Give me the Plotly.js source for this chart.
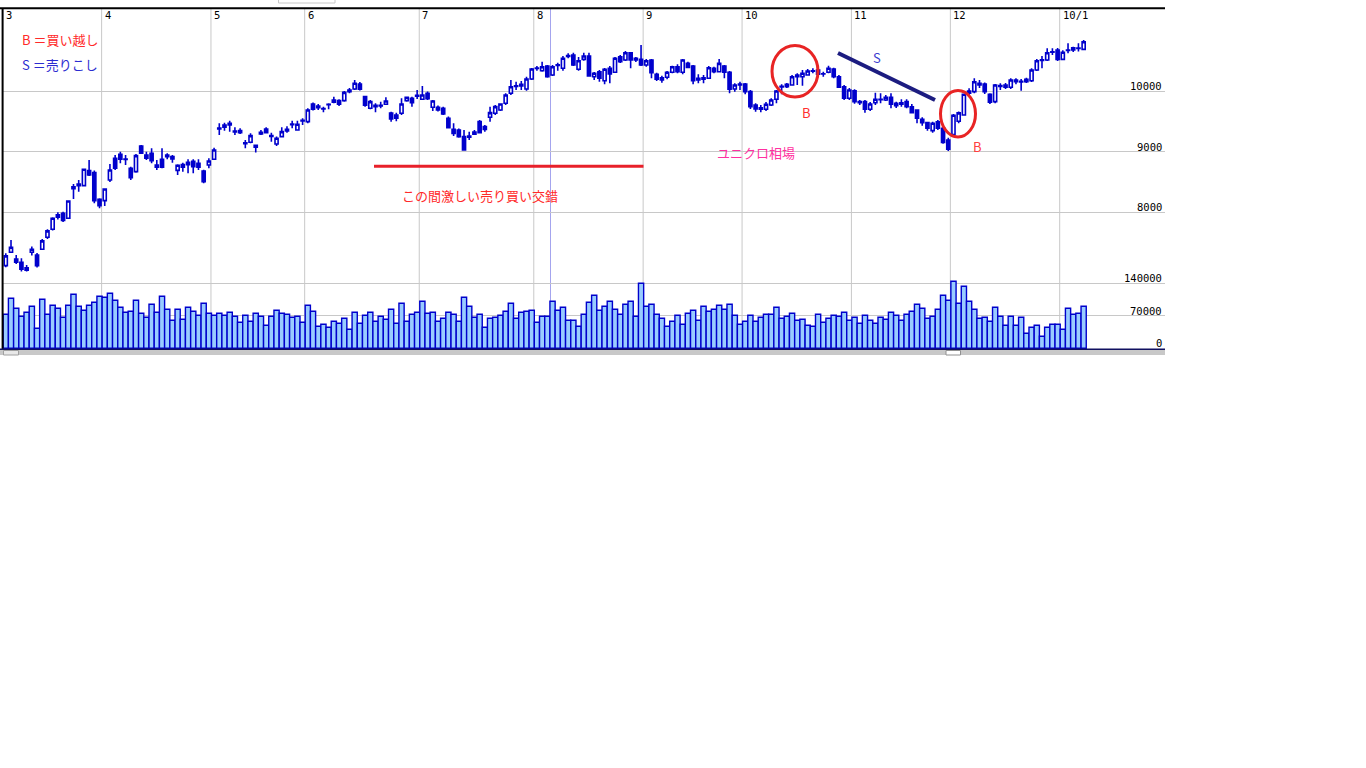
<!DOCTYPE html>
<html><head><meta charset="utf-8">
<script src="https://cdn.plot.ly/plotly-3.0.1.min.js"></script>
<style>html,body{margin:0;padding:0;background:#fff;overflow:hidden}#chart{width:1366px;height:768px}</style>
</head><body><div id="chart"></div>
<script>
// ---- data (daily candles, Mar 2009 - Jan 2010) ----
const monthLabels = ['3','4','5','6','7','8','9','10','11','12','10/1'];
const monthStart  = [0,19,40,58,80,102,123,142,163,182,203];

const openP = [
7121,7342,7231,7177,7083,7342,7297,7391,7589,7721,
7957,7985,7902,8390,8467,8440,8687,8654,8215,8192,
8533,8891,8956,8870,8726,8670,9094,8945,8973,8780,
8874,8918,8880,8692,8786,8786,8841,8808,8682,8780,
8874,9375,9402,9467,9340,9313,9130,9154,9105,9320,
9374,9250,9127,9248,9368,9445,9357,9505,9495,9786,
9753,9710,9775,9814,9841,9841,10016,10033,10115,9907,
9715,9764,9755,9781,9637,9604,9632,9841,9880,9915,
9863,9962,9731,9731,9715,9550,9368,9357,9248,9240,
9286,9495,9412,9567,9632,9687,9797,9962,10077,10082,
10033,10198,10370,10335,10412,10264,10420,10374,10570,10593,
10358,10522,10577,10236,10318,10170,10374,10308,10565,10511,
10631,10539,10522,10428,10511,10275,10219,10226,10308,10400,
10308,10456,10412,10181,10219,10209,10374,10318,10412,10308,
10033,10099,10115,9989,9769,9725,9698,9769,9863,10066,
10110,10099,10236,10236,10264,10325,10346,10285,10308,10363,
10236,10071,9880,10005,9824,9824,9698,9807,9855,9852,
9896,9797,9781,9824,9741,9687,9534,9478,9346,9494,
9385,9190,9280,9500,9604,9962,9989,10127,10115,9946,
9824,10077,10061,10061,10181,10150,10153,10170,10346,10505,
10511,10640,10676,10522,10670,10676,10708,10687];

const highP = [
7325,7544,7297,7243,7132,7434,7330,7560,7720,7920,
8000,8010,8200,8467,8533,8720,8863,8690,8232,8396,
8797,8945,9000,8945,8753,8960,9110,9000,9056,8863,
9056,8973,8945,8792,8819,8874,8874,8874,8700,8891,
9066,9468,9478,9511,9402,9385,9192,9303,9110,9357,
9402,9313,9248,9402,9418,9511,9511,9550,9715,9810,
9786,9742,9797,9907,9863,10000,10049,10181,10150,9923,
9852,9797,9824,9896,9659,9640,9880,9907,9907,10016,
10082,9990,9852,9760,9742,9580,9468,9380,9357,9330,
9357,9520,9440,9742,9769,9800,9962,10181,10153,10165,
10236,10380,10412,10483,10428,10428,10467,10577,10621,10631,
10560,10631,10631,10313,10346,10379,10412,10560,10593,10659,
10643,10560,10758,10527,10527,10302,10252,10330,10417,10440,
10527,10483,10428,10275,10264,10412,10400,10527,10428,10330,
10127,10153,10132,10016,9797,9769,9819,9880,10016,10110,
10132,10264,10292,10346,10363,10374,10374,10318,10417,10384,
10264,10099,10049,10030,9852,9852,9819,9972,9962,9934,
9962,9824,9863,9863,9786,9698,9567,9494,9494,9522,
9440,9230,9620,9660,9960,10044,10209,10181,10140,9962,
10115,10127,10132,10209,10209,10198,10219,10374,10527,10577,
10704,10704,10709,10670,10786,10731,10786,10840];

const lowP = [
7094,7330,7149,7022,7022,7286,7088,7380,7560,7700,
7880,7840,7890,8220,8340,8430,8600,8150,8067,8105,
8500,8698,8808,8780,8533,8650,8967,8863,8808,8698,
8726,8874,8819,8616,8670,8643,8643,8698,8479,8726,
8863,9275,9346,9330,9275,9291,9056,9138,8984,9275,
9302,9165,9094,9240,9313,9385,9346,9440,9468,9680,
9687,9649,9698,9797,9753,9824,9962,10016,10010,9742,
9698,9649,9715,9769,9494,9500,9604,9824,9742,9868,
9852,9852,9670,9660,9604,9380,9259,9230,9016,9192,
9275,9300,9330,9494,9604,9670,9769,9934,10016,10016,
10005,10180,10335,10318,10219,10247,10335,10335,10539,10412,
10335,10500,10236,10181,10153,10110,10127,10297,10461,10494,
10374,10478,10412,10400,10209,10165,10137,10193,10292,10292,
10275,10374,10110,10127,10127,10198,10292,10318,10209,9962,
9989,10016,9946,9703,9659,9649,9670,9753,9797,9946,
10049,10088,10099,10088,10252,10292,10252,10236,10292,10209,
10049,9852,9852,9790,9769,9642,9670,9769,9797,9835,
9715,9720,9740,9715,9632,9468,9428,9346,9313,9357,
9130,9011,9240,9470,9590,9934,9962,10049,9950,9786,
9800,10016,10033,10033,10110,10005,10132,10148,10330,10374,
10494,10593,10494,10511,10621,10643,10651,10676];

const closeP = [
7281,7424,7177,7062,7045,7391,7120,7528,7693,7902,
7919,7864,8187,8420,8440,8710,8616,8192,8110,8385,
8698,8726,8874,8880,8571,8934,8973,8891,8852,8742,
8742,8945,8918,8775,8742,8825,8753,8742,8505,8846,
9028,9390,9440,9440,9325,9346,9145,9264,9072,9291,
9313,9265,9220,9330,9341,9455,9451,9515,9687,9698,
9725,9703,9781,9852,9781,9978,9989,10127,10028,9764,
9825,9742,9764,9836,9539,9550,9786,9896,9808,9928,
9934,9874,9836,9687,9621,9396,9302,9248,9028,9259,
9324,9313,9368,9643,9742,9786,9934,10071,10087,10110,
10198,10363,10378,10401,10236,10401,10430,10539,10585,10428,
10499,10577,10247,10292,10209,10358,10280,10539,10483,10631,
10511,10511,10428,10499,10302,10193,10181,10308,10400,10318,
10511,10390,10170,10209,10193,10384,10318,10456,10308,10028,
10099,10115,9989,9741,9703,9698,9781,9852,10000,10077,
10071,10236,10264,10292,10330,10335,10275,10280,10374,10236,
10061,9880,10016,9824,9807,9698,9786,9863,9865,9896,
9781,9758,9807,9741,9642,9550,9478,9385,9468,9385,
9150,9040,9600,9640,9946,10000,10153,10099,9989,9814,
10099,10088,10099,10181,10153,10160,10193,10346,10499,10515,
10631,10648,10522,10638,10676,10714,10700,10812];

const volume = [
73200,107700,86200,68900,77500,90500,43100,105500,73200,92600,
86200,66800,92600,116300,90500,81900,92600,99100,112000,109900,
118500,103400,88300,77500,79700,103400,75400,66800,94800,77500,
112000,84000,60300,84000,62500,88300,79700,71100,96900,75400,
71100,75400,71100,77500,68900,56000,71100,58200,75400,68900,
49500,68900,81900,75400,73200,66800,68900,
56000,92600,79700,47400,51700,45200,58200,53800,64600,40900,
77500,53800,71100,77500,58200,68900,62500,84000,53800,96900,
58200,73200,77500,101200,75400,77500,58200,64600,77500,73200,
58200,109900,90500,66800,73200,45200,64600,66800,71100,79700,
96900,64600,77500,79700,81900,56000,68900,68900,101200,81900,
88300,60300,60300,47400,
73200,99100,114200,81900,90500,101200,84000,73200,94800,101200,
68900,140000,90500,94800,73200,64600,47400,58200,71100,51700,
75400,81900,60300,90500,79700,84000,92600,84000,94800,71100,
51700,58200,71100,58200,66800,73200,73200,88300,64600,68900,
75400,60300,62500,49500,47400,73200,56000,64600,71100,68900,
77500,60300,66800,53800,
71100,60300,53800,66800,62500,77500,71100,60300,73200,79700,
94800,86200,64600,68900,84000,114200,103400,144300,96900,133500,
101200,84000,64600,66800,58200,88300,68900,49500,68900,49500,
66800,32300,45200,49500,25800,45200,51700,51700,40900,86200,
73200,75400,90500];

const priceTicks = [10000, 9000, 8000];
const volTicks = [140000, 70000, 0];

// ---- layout geometry (pixels of the frame) ----
const PL = 3, PT = 8, PR = 1165, PB = 349;
const px = x => (x - PL) / (PR - PL);
const py = y => (PB - y) / (PB - PT);
const X0 = (PL - 5.8) / 5.207, X1 = (PR - 5.8) / 5.207;

const idx = openP.map((_, i) => i);
const BLUE = '#0000cc';

const candles = {
  type: 'candlestick', x: idx, open: openP, high: highP, low: lowP, close: closeP,
  xaxis: 'x', yaxis: 'y', hoverinfo: 'skip', whiskerwidth: 0,
  increasing: {line: {color: BLUE, width: 1.6}, fillcolor: '#ffffff'},
  decreasing: {line: {color: BLUE, width: 1.6}, fillcolor: BLUE}
};
const vols = {
  type: 'bar', x: idx, y: volume, xaxis: 'x', yaxis: 'y2', hoverinfo: 'skip',
  marker: {color: '#99ccff', line: {color: BLUE, width: 1.4}}
};

const shapes = [];
monthStart.forEach((s, k) => {
  if (k === 0) return;
  shapes.push({type: 'line', xref: 'x', yref: 'paper', x0: s - 0.6, x1: s - 0.6, y0: 0, y1: 1,
    line: {color: '#c8c8c8', width: 1}, layer: 'below'});
});
shapes.push({type: 'line', xref: 'paper', yref: 'paper', x0: px(550.5), x1: px(550.5), y0: 0, y1: 1,
  line: {color: '#a4a4ee', width: 1}, layer: 'below'});
shapes.push({type: 'line', xref: 'paper', yref: 'paper', x0: px(0), x1: px(1165), y0: py(8.2), y1: py(8.2), line: {color: '#000', width: 2}});
shapes.push({type: 'line', xref: 'paper', yref: 'paper', x0: px(2.6), x1: px(2.6), y0: py(349), y1: py(8), line: {color: '#000', width: 2}});
shapes.push({type: 'rect', xref: 'paper', yref: 'paper', x0: px(0), x1: px(1165), y0: py(355), y1: py(349.6), fillcolor: '#c8c8c8', line: {width: 0}});
shapes.push({type: 'line', xref: 'paper', yref: 'paper', x0: px(0), x1: px(1165), y0: py(349.2), y1: py(349.2), line: {color: '#101060', width: 1.5}});
shapes.push({type: 'rect', xref: 'paper', yref: 'paper', x0: px(3.5), x1: px(18.5), y0: py(355), y1: py(350.5), fillcolor: '#e8e8e8', line: {color: '#a0a0a0', width: 1}});
shapes.push({type: 'rect', xref: 'paper', yref: 'paper', x0: px(946), x1: px(960.5), y0: py(355), y1: py(350.5), fillcolor: '#ffffff', line: {color: '#909090', width: 1}});
shapes.push({type: 'rect', xref: 'paper', yref: 'paper', x0: px(278.5), x1: px(335), y0: py(3), y1: py(-1), fillcolor: '#ffffff', line: {color: '#c8c8c8', width: 1}});
shapes.push({type: 'line', xref: 'paper', yref: 'paper', x0: px(374), x1: px(643.5), y0: py(166.3), y1: py(166.3), line: {color: '#e8202a', width: 3}});
shapes.push({type: 'line', xref: 'paper', yref: 'paper', x0: px(838), x1: px(935), y0: py(53), y1: py(100), line: {color: '#1c1c80', width: 4}});
shapes.push({type: 'circle', xref: 'paper', yref: 'paper', x0: px(772), x1: px(818), y0: py(97), y1: py(45.5), line: {color: '#e82424', width: 3}});
shapes.push({type: 'circle', xref: 'paper', yref: 'paper', x0: px(940.5), x1: px(975.5), y0: py(137), y1: py(90.5), line: {color: '#e82424', width: 3}});

const tickFont = {family: 'DejaVu Sans Mono, Liberation Mono, monospace', size: 10.5, color: '#000'};
const jp = 'Noto Sans CJK JP, sans-serif';
const annotations = [];
monthLabels.forEach((t, k) => {
  annotations.push({xref: 'x', yref: 'paper', x: Math.max(monthStart[k] - 0.6, X0 + 0.01), y: py(15.5), text: t, showarrow: false,
    xanchor: 'left', yanchor: 'middle', xshift: 1, font: tickFont});
});
priceTicks.forEach(v => annotations.push({xref: 'paper', yref: 'y', x: 1, y: v, text: String(v), showarrow: false,
  xanchor: 'right', yanchor: 'bottom', xshift: -1, yshift: -3, font: tickFont}));
volTicks.forEach(v => annotations.push({xref: 'paper', yref: 'y2', x: 1, y: v, text: String(v), showarrow: false,
  xanchor: 'right', yanchor: 'bottom', xshift: -1, yshift: -3, font: tickFont}));

const note = (x, y, text, color, anchor) => annotations.push({xref: 'paper', yref: 'paper', x: px(x), y: py(y), text: text,
  showarrow: false, xanchor: anchor || 'left', yanchor: 'middle', font: {family: jp, size: 13, color: color}});
note(20, 39, 'B ＝買い越し', '#ff2a2a');
note(20, 64.5, 'S ＝売りこし', '#2c2cd0');
note(480, 196, 'この間激しい売り買い交錯', '#ff2a2a', 'center');
note(756, 152.5, 'ユニクロ相場', '#ff30a0', 'center');
note(806, 112.5, 'B', '#ff3030', 'center');
note(876.5, 57.5, 'S', '#3c3cd0', 'center');
note(977.5, 146, 'B', '#ff4040', 'center');

const layout = {
  width: 1366, height: 768, autosize: false,
  margin: {l: PL, t: PT, r: 1366 - PR, b: 768 - PB, pad: 0},
  paper_bgcolor: '#fff', plot_bgcolor: '#fff', showlegend: false, hovermode: false,
  bargap: 0, boxgap: 0.15,
  xaxis: {range: [X0, X1], showgrid: false, zeroline: false, showline: false,
    showticklabels: false, ticks: '', rangeslider: {visible: false}, fixedrange: true},
  yaxis: {range: [5746, 11368.5], tickvals: priceTicks, showticklabels: false, ticks: '',
    gridcolor: '#c8c8c8', gridwidth: 1, zeroline: false, showline: false, fixedrange: true},
  yaxis2: {overlaying: 'y', side: 'right', range: [-1508, 732954], tickvals: [70000, 140000], showticklabels: false, ticks: '',
    showgrid: true, gridcolor: '#c8c8c8', gridwidth: 1, zeroline: false, showline: false, fixedrange: true},
  shapes: shapes, annotations: annotations
};

Plotly.newPlot('chart', [candles, vols], layout, {staticPlot: true, displayModeBar: false});
</script></body></html>
